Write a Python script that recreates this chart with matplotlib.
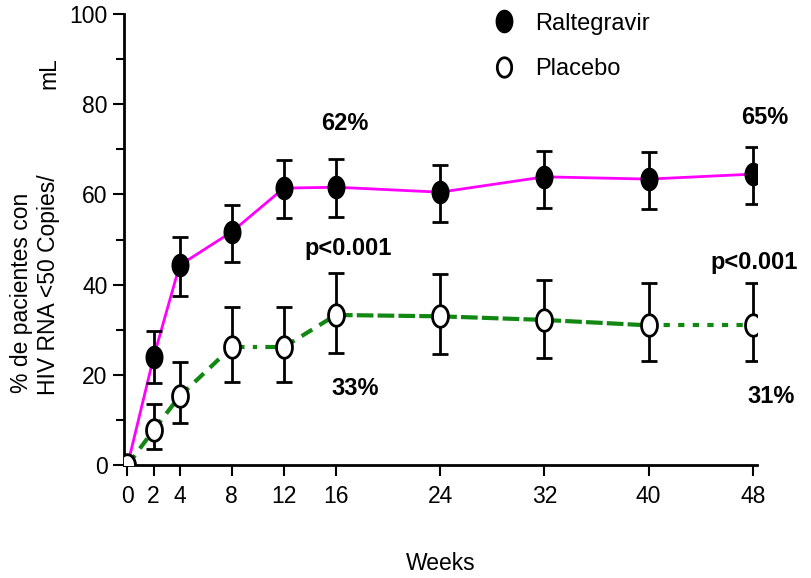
import numpy as np
import matplotlib
matplotlib.use("Agg")
import matplotlib.pyplot as plt
from matplotlib.path import Path
from matplotlib.lines import Line2D

plt.rcParams['font.family'] = ['Liberation Sans', 'DejaVu Sans']

weeks = [0, 2, 4, 8, 12, 16, 24, 32, 40, 48]

ral = [0, 23.9, 44.3, 51.7, 61.4, 61.6, 60.5, 63.9, 63.4, 64.5]
ral_hi = [0, 29.7, 50.6, 57.6, 67.6, 67.8, 66.5, 69.6, 69.4, 70.5]
ral_lo = [0, 18.2, 37.5, 45.0, 54.8, 55.0, 53.9, 57.0, 56.8, 57.9]

pla = [0, 7.8, 15.3, 26.2, 26.2, 33.3, 33.0, 32.2, 31.0, 31.0]
pla_hi = [0, 13.5, 22.8, 35.0, 35.0, 42.6, 42.4, 41.0, 40.4, 40.4]
pla_lo = [0, 3.5, 9.3, 18.4, 18.4, 24.8, 24.6, 23.7, 23.1, 23.1]

# dash pattern of each placebo segment
seg_styles = [(0, (3, 2)), (0, (3, 2)), (0, (3, 2)), (0, (3, 2, 1, 2)),
              (0, (3, 2)), (0, (4, 1)), (0, (4, 1)), (0, (4, 1)), (0, (1.5, 2))]

# ellipse marker (taller than wide)
t = np.linspace(0, 2 * np.pi, 60)
ell = Path(np.column_stack([0.37 * np.cos(t), 0.5 * np.sin(t)]), closed=True)

fig = plt.figure(figsize=(8.12, 5.78), dpi=100)
ax = fig.add_axes([0.153, 0.195, 0.779, 0.781])

ral = np.array(ral)
pla = np.array(pla)

ax.plot(weeks, ral, color='#ff00ff', lw=2, zorder=2)
for i in range(len(weeks) - 1):
    ax.plot(weeks[i:i + 2], pla[i:i + 2], color='#118811', lw=3,
            linestyle=seg_styles[i], zorder=2)

ax.errorbar(weeks, ral, yerr=[ral - np.array(ral_lo), np.array(ral_hi) - ral],
            fmt='none', ecolor='black', elinewidth=2, capsize=6, capthick=2, zorder=3)
ax.errorbar(weeks, pla, yerr=[pla - np.array(pla_lo), np.array(pla_hi) - pla],
            fmt='none', ecolor='black', elinewidth=2, capsize=6, capthick=2, zorder=3)

ax.plot(weeks, ral, linestyle='none', marker=ell, ms=15.5, mfc='black',
        mec='black', mew=1.5, zorder=4)
ax.plot(weeks, pla, linestyle='none', marker=ell, ms=15.5, mfc='white',
        mec='black', mew=2, zorder=5)

ax.set_xlim(-0.25, 48.3)
ax.set_ylim(0, 100)
ax.set_xticks(weeks)
ax.set_yticks(range(0, 101, 20))
ax.set_yticks(range(10, 100, 20), minor=True)
ax.spines['top'].set_visible(False)
ax.spines['right'].set_visible(False)
for s in ('left', 'bottom'):
    ax.spines[s].set_linewidth(2)
ax.tick_params(axis='both', which='major', direction='out', length=8, width=1.5,
               labelsize=16.5, pad=4)
ax.tick_params(axis='y', which='minor', direction='out', length=6, width=1.5)
ax.tick_params(axis='x', pad=6)

ax.set_xlabel('Weeks', fontsize=16.5, labelpad=32)

fig.text(0.027, 0.493, '% de pacientes con', rotation=90, fontsize=16.5,
         ha='center', va='center')
fig.text(0.060, 0.507, 'HIV RNA <50 Copies/', rotation=90, fontsize=16.5,
         ha='center', va='center')
fig.text(0.060, 0.874, 'mL', rotation=90, fontsize=16.5, ha='center', va='center')

bold = dict(fontsize=17, fontweight='bold', ha='center', va='center')
ax.text(16.7, 75.8, '62%', **bold)
ax.text(48.9, 77.0, '65%', **bold)
ax.text(16.9, 48.1, 'p<0.001', **bold)
ax.text(48.1, 45.0, 'p<0.001', clip_on=False, **bold)
ax.text(17.5, 17.0, '33%', **bold)
ax.text(49.4, 15.3, '31%', clip_on=False, **bold)

handles = [
    Line2D([], [], linestyle='none', marker=ell, ms=16, mfc='black', mec='black'),
    Line2D([], [], linestyle='none', marker=ell, ms=14, mfc='white', mec='black', mew=2),
]
ax.legend(handles, ['Raltegravir', 'Placebo'], loc='upper left',
          bbox_to_anchor=(0.538, 1.05), frameon=False, fontsize=17,
          labelspacing=1.0, handletextpad=0.6, handlelength=1.5)

fig.savefig('out.png', dpi=100)
